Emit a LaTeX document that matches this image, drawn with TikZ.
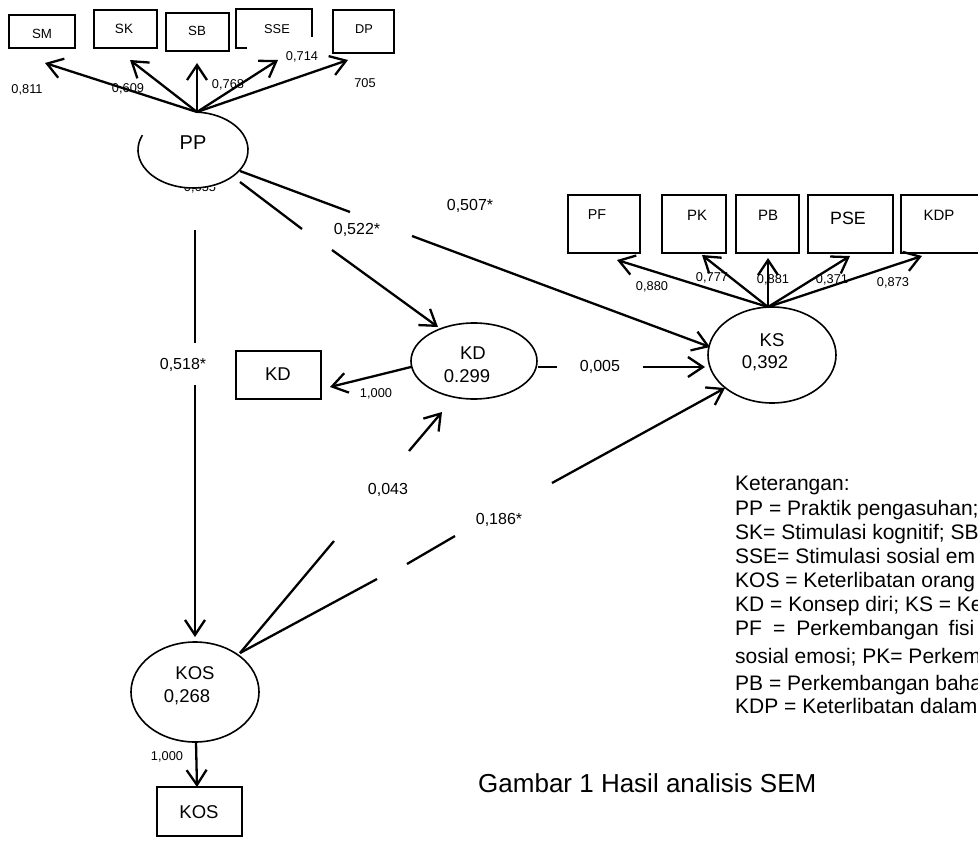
\documentclass[tikz,border=0pt]{standalone}
\usepackage{fontspec}
\setmainfont{Liberation Sans}
\usetikzlibrary{arrows.meta,shapes.geometric,calc}
\begin{document}
\begin{tikzpicture}[x=1pt,y=-1pt,
  arr/.style={line width=2.3pt,-{Straight Barb[length=15pt,width=20pt]}},
  ln/.style={line width=2.3pt},
  box/.style={draw,line width=1.8pt,rectangle,inner sep=0pt},
  lat/.style={draw,ellipse,line width=1.6pt,inner sep=0pt},
  ts/.style={font=\fontsize{12.8}{14}\selectfont,inner sep=0pt},
  tb/.style={font=\fontsize{15}{17}\selectfont,inner sep=0pt},
  tm/.style={font=\fontsize{16}{18}\selectfont,inner sep=0pt},
  tl/.style={font=\fontsize{18.5}{21}\selectfont,inner sep=0pt},
  leg/.style={font=\fontsize{21}{24}\selectfont,inner sep=0pt,anchor=base west}]
\useasboundingbox (0,0) rectangle (978,843);
\clip (0,0) rectangle (978,843);

% ---------- PP block ----------
\node[box,minimum width=66,minimum height=33] (SM) at (42,31.5) {};
\node[ts,font=\fontsize{13.3}{15}\selectfont] (SMt) at (42,34) {SM};
\node[box,minimum width=63,minimum height=38] (SK) at (125.5,29) {};
\node[ts,font=\fontsize{13.5}{15}\selectfont] (SKt) at (124,29) {SK};
\node[box,minimum width=63,minimum height=38] (SB) at (197.5,32) {};
\node[ts,font=\fontsize{13.3}{15}\selectfont] (SBt) at (197,31) {SB};
\draw[line width=1.8pt] (247,48) -- (236,48) -- (236,9) -- (312,9) -- (312,37);
\node[ts] (SSEt) at (277,29) {SSE};
\node[box,minimum width=61,minimum height=43] (DP) at (363.5,31.5) {};
\node[ts] (DPt) at (364,29) {DP};

% hidden estimate under PP
\begin{scope}
  \clip (170,187.5) rectangle (230,200);
  \node[ts] (PPr) at (200,188) {0,655};
\end{scope}

\node[ellipse,inner sep=0pt,minimum width=110,minimum height=76] (PP) at (193,150) {};
\draw[line width=1.6pt] ($(PP.center)+(274:55 and 38)$) arc[start angle=274,end angle=563,x radius=55,y radius=38];
\node[font=\fontsize{20}{22}\selectfont,inner sep=0pt] (PPt) at (193,143) {PP};

\coordinate (ppTop) at (197,112);
\coordinate (tSM) at (45,63);
\coordinate (tSK) at (130,60);
\coordinate (tSB) at (197,63);
\coordinate (tSSE) at (278,60);
\coordinate (tDP) at (348,60);
\draw[arr] (ppTop) -- (tSM);
\draw[arr] (ppTop) -- (tSK);
\draw[arr] (ppTop) -- (tSB);
\draw[arr] (ppTop) -- (tSSE);
\draw[arr] (ppTop) -- (tDP);
\node[ts] (l811) at (27,90) {0,811};
\node[ts] (l609) at (128,89) {0,609};
\node[ts] (l768) at (228,85) {0,768};
\node[ts] (l714) at (302,57) {0,714};
\node[ts] (l705) at (365,83) {705};

% ---------- KS block ----------
\node[box,minimum width=72,minimum height=58] (PF) at (604,224) {};
\node[tb,font=\fontsize{14.3}{16}\selectfont] (PFt) at (597,215) {PF};
\node[box,minimum width=64,minimum height=58] (PK) at (694,224) {};
\node[tb] (PKt) at (697,215) {PK};
\node[box,minimum width=63,minimum height=58] (PB) at (767.5,224) {};
\node[tb] (PBt) at (768,215) {PB};
\node[box,minimum width=85,minimum height=58] (PSE) at (850.5,224) {};
\node[font=\fontsize{17.8}{20}\selectfont,inner sep=0pt] (PSEt) at (848,218) {PSE};
\node[box,minimum width=84,minimum height=58] (KDP) at (943,224) {};
\node[tb] (KDPt) at (939,215) {KDP};

\node[lat,minimum width=128,minimum height=96] (KS) at (772,355) {};
\node[tl] (KSt) at (772,340) {KS};
\node[tl] (KSv) at (765,363) {0,392};

\coordinate (ksTop) at (768,307);
\coordinate (tPF) at (617,260);
\coordinate (tPK) at (702,255);
\coordinate (tPB) at (768,258);
\coordinate (tPSE) at (850,256);
\coordinate (tKDP) at (922,256);
\draw[arr] (ksTop) -- (tPF);
\draw[arr] (ksTop) -- (tPK);
\draw[arr] (ksTop) -- (tPB);
\draw[arr] (ksTop) -- (tPSE);
\draw[arr] (ksTop) -- (tKDP);
\node[ts] (l880) at (652,287) {0,880};
\node[ts] (l777) at (712,278) {0,777};
\node[ts] (l881) at (773,280) {0,881};
\node[ts] (l371) at (832,280) {0,371};
\node[ts] (l873) at (893,283) {0,873};

% ---------- KD block ----------
\node[lat,minimum width=126,minimum height=76] (KD) at (474,361) {};
\node[tl] (KDt) at (473,353) {KD};
\node[tl] (KDv) at (467,376) {0.299};
\node[box,line width=1.5pt,minimum width=85,minimum height=48] (KDb) at (278.5,375) {};
\node[tl] (KDbt) at (278,374) {KD};
\coordinate (kdL) at (411,367);
\coordinate (tKDb) at (330,387);
\draw[arr] (kdL) -- (tKDb);
\node[ts] (l1kd) at (376,394) {1,000};

% ---------- KOS block ----------
\node[lat,minimum width=128,minimum height=100] (KOS) at (195,692) {};
\node[tl] (KOSt) at (195,673) {KOS};
\node[tl] (KOSv) at (187,697) {0,268};
\node[box,line width=1.5pt,minimum width=85,minimum height=49] (KOSb) at (199.5,811.5) {};
\node[tl] (KOSbt) at (199,812) {KOS};
\coordinate (kosB) at (196,742);
\coordinate (tKOSb) at (197,787);
\draw[arr] (kosB) -- (tKOSb);
\node[ts] (l1kos) at (167,757) {1,000};

% ---------- structural paths ----------
% PP -> KS
\coordinate (a1) at (240,171); \coordinate (a2) at (350,212);
\coordinate (a3) at (412,236); \coordinate (tKS1) at (710,347);
\draw[ln] (a1) -- (a2);
\draw[arr] (a3) -- (tKS1);
\node[tm] (l507) at (470,206) {0,507*};
% PP -> KD
\coordinate (b1) at (240,182); \coordinate (b2) at (302,229);
\coordinate (b3) at (332,250); \coordinate (tKD1) at (438,327);
\draw[ln] (b1) -- (b2);
\draw[arr] (b3) -- (tKD1);
\node[tm] (l522) at (357,230) {0,522*};
% PP -> KOS
\coordinate (c1) at (195,230); \coordinate (c2) at (195,343);
\coordinate (c3) at (195,385); \coordinate (tKOS) at (195,637);
\draw[ln] (c1) -- (c2);
\draw[arr] (c3) -- (tKOS);
\node[tm] (l518) at (183,365) {0,518*};
% KD -> KS
\coordinate (d1) at (538,367); \coordinate (d2) at (557,367);
\coordinate (d3) at (643,367); \coordinate (tKS2) at (705,367);
\draw[ln] (d1) -- (d2);
\draw[arr] (d3) -- (tKS2);
\node[tm] (l005) at (600,367) {0,005};
% KOS -> KD
\coordinate (kosR) at (240,653);
\coordinate (e2) at (334,541); \coordinate (e3) at (409,451);
\coordinate (tKD2) at (442,412);
\draw[ln] (kosR) -- (e2);
\draw[arr] (e3) -- (tKD2);
\node[tm] (l043) at (388,490) {0,043};
% KOS -> KS
\coordinate (f2) at (377,579); \coordinate (f3) at (407,564);
\coordinate (f4) at (455,536); \coordinate (f5) at (552,483);
\coordinate (tKS3) at (725,388);
\draw[ln] (kosR) -- (f2);
\draw[ln] (f3) -- (f4);
\draw[arr] (f5) -- (tKS3);
\node[tm] (l186) at (499,520) {0,186*};

% ---------- legend ----------
\node[leg] (lg1) at (735,490) {Keterangan:};
\node[leg] (lg2) at (735,515) {PP = Praktik pengasuhan;};
\node[leg] (lg3) at (735,539) {SK= Stimulasi kognitif; SB};
\node[leg] (lg4) at (735,563) {SSE= Stimulasi sosial em};
\node[leg] (lg5) at (735,587) {KOS = Keterlibatan orang};
\node[leg] (lg6) at (735,611) {KD = Konsep diri; KS = Ke};
\node[leg] (lg7) at (735,635) {PF\hspace{11pt}=\hspace{11pt}Perkembangan\hspace{10pt}fisi};
\node[leg] (lg8) at (735,663) {sosial emosi; PK= Perkem};
\node[leg] (lg9) at (735,690) {PB = Perkembangan baha};
\node[leg] (lg10) at (735,713) {KDP = Keterlibatan dalam};

\node[font=\fontsize{26}{30}\selectfont,inner sep=0pt,anchor=base west] (cap) at (478,792) {Gambar 1 Hasil analisis SEM};
\end{tikzpicture}
\end{document}
